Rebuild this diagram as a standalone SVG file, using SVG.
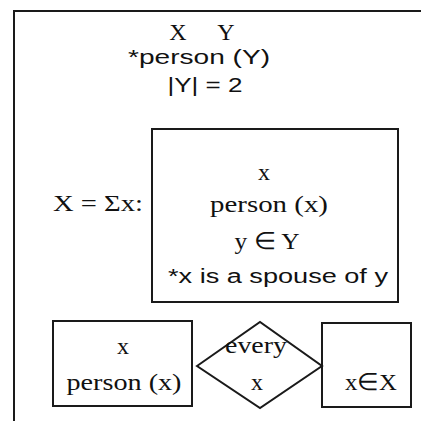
<svg xmlns="http://www.w3.org/2000/svg" width="421" height="423" viewBox="0 0 421 423">
<style>
.ln{fill:none;stroke:#1a1a1a;stroke-width:2}
.t{font-family:"Liberation Serif",serif;font-size:24px;fill:#111;text-anchor:middle}
.s{font-family:"Liberation Sans",sans-serif;font-size:20px;fill:#111;text-anchor:middle}
</style>
<rect width="421" height="423" fill="#fff"/>
<g id="outer">
<path class="ln" d="M421,11 H14 V421"/>
<text class="t" x="178" y="40">X</text>
<text class="t" x="226" y="40">Y</text>
<text class="s" x="199" y="64" textLength="142" lengthAdjust="spacingAndGlyphs">*person (Y)</text>
<text class="s" x="205" y="92" textLength="75" lengthAdjust="spacingAndGlyphs">|Y| = 2</text>
<text class="t" x="98" y="211" textLength="90" lengthAdjust="spacingAndGlyphs">X = Σx:</text>
</g>
<g id="inner">
<rect class="ln" x="152" y="129" width="246" height="173"/>
<text class="t" x="264" y="180">x</text>
<text class="t" x="269" y="212" textLength="118" lengthAdjust="spacingAndGlyphs">person (x)</text>
<text class="t" x="267" y="249" textLength="65" lengthAdjust="spacingAndGlyphs">y ∈ Y</text>
<text class="s" x="278" y="283" textLength="220" lengthAdjust="spacingAndGlyphs">*x is a spouse of y</text>
</g>
<g id="left-box">
<rect class="ln" x="53" y="321" width="139" height="85"/>
<text class="t" x="123" y="354">x</text>
<text class="t" x="124" y="390" textLength="115" lengthAdjust="spacingAndGlyphs">person (x)</text>
</g>
<g id="diamond">
<polygon class="ln" points="197,366 260,322 322,366 260,408"/>
<text class="t" x="256" y="353" textLength="62" lengthAdjust="spacingAndGlyphs">every</text>
<text class="t" x="257" y="390">x</text>
</g>
<g id="right-box">
<rect class="ln" x="322" y="323" width="89" height="84"/>
<text class="t" x="371" y="390" textLength="52" lengthAdjust="spacingAndGlyphs">x∈X</text>
</g>
<g id="connectors"></g>
</svg>
